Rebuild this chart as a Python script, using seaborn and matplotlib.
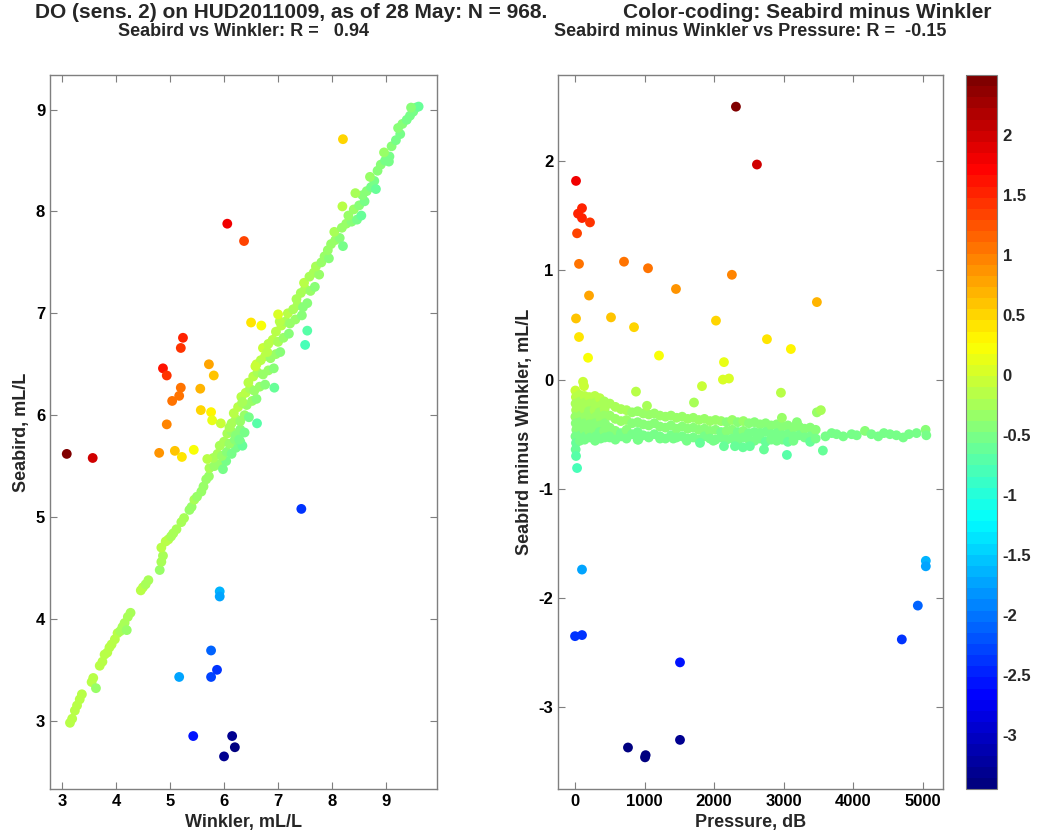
import matplotlib
matplotlib.use('Agg')
import matplotlib.pyplot as plt
from matplotlib.colors import LinearSegmentedColormap
import seaborn as sns
import numpy as np
import pandas as pd

# left panel: (Winkler, Seabird) pairs
band_pairs = [
    (3.15, 2.98), (3.19, 3.02), (3.24, 3.10), (3.28, 3.15), (3.33, 3.21), (3.37, 3.26),
    (3.55, 3.38), (3.58, 3.42), (3.63, 3.32), (3.70, 3.54), (3.75, 3.58), (3.79, 3.65),
    (3.84, 3.67), (3.88, 3.72), (3.92, 3.75), (3.98, 3.80), (4.03, 3.86), (4.08, 3.88),
    (4.12, 3.92), (4.16, 3.96), (4.20, 3.89), (4.22, 4.02), (4.27, 4.06), (4.46, 4.28),
    (4.50, 4.31), (4.55, 4.34), (4.60, 4.38), (4.81, 4.48), (4.84, 4.56), (4.87, 4.62),
    (4.84, 4.70), (4.92, 4.76), (4.97, 4.78), (5.02, 4.81), (5.06, 4.84), (5.12, 4.88),
    (5.21, 4.95), (5.26, 4.99), (5.36, 5.07), (5.40, 5.10), (5.45, 5.17), (5.50, 5.20),
    (5.58, 5.25), (5.62, 5.30), (5.67, 5.37), (5.72, 5.40),
    (5.73, 5.48), (5.82, 5.50), (5.90, 5.52), (5.98, 5.47), (6.04, 5.55),
    (5.80, 5.58), (5.88, 5.62), (5.96, 5.60), (6.05, 5.64), (6.14, 5.62), (6.22, 5.68),
    (5.92, 5.70), (6.00, 5.74), (6.10, 5.72), (6.20, 5.76), (6.30, 5.74), (6.34, 5.70),
    (6.06, 5.82), (6.14, 5.84), (6.22, 5.80), (6.30, 5.86), (6.38, 5.83),
    (6.14, 5.92), (6.22, 5.96), (6.30, 5.94), (6.38, 6.00), (6.46, 5.98), (6.18, 6.02),
    (6.26, 6.08), (6.34, 6.12), (6.42, 6.10), (6.52, 6.14), (6.60, 6.16), (6.32, 6.18),
    (6.40, 6.22), (6.48, 6.26), (6.56, 6.24), (6.66, 6.28), (6.76, 6.30), (6.45, 6.32),
    (6.54, 6.38), (6.62, 6.42), (6.72, 6.40), (6.82, 6.44), (6.92, 6.46), (6.60, 6.50),
    (6.68, 6.54), (6.76, 6.58), (6.86, 6.56), (6.96, 6.60), (7.04, 6.62), (6.72, 6.66),
    (6.82, 6.70), (6.90, 6.74), (7.00, 6.72), (7.10, 6.76), (7.20, 6.80), (6.96, 6.82),
    (7.06, 6.88), (7.14, 6.92), (7.22, 6.90), (7.32, 6.94), (7.44, 6.98), (7.18, 7.00),
    (7.28, 7.04), (7.36, 7.08), (7.46, 7.06), (7.54, 7.10), (7.34, 7.14),
    (7.42, 7.20), (7.50, 7.24), (7.60, 7.22), (7.68, 7.26), (7.48, 7.30),
    (7.58, 7.36), (7.66, 7.40), (7.76, 7.38), (7.70, 7.46),
    (7.80, 7.50), (7.86, 7.56), (7.94, 7.54), (7.92, 7.62),
    (7.98, 7.68), (8.06, 7.72), (8.14, 7.74), (8.04, 7.80),
    (8.18, 7.84), (8.26, 7.88), (8.36, 7.90), (8.46, 7.92), (8.54, 7.96), (8.30, 7.96),
    (8.40, 8.02), (8.50, 8.06), (8.60, 8.10), (8.56, 8.16),
    (8.64, 8.20), (8.72, 8.24), (8.78, 8.30), (8.70, 8.34),
    (8.84, 8.40), (8.90, 8.46), (8.98, 8.50), (9.06, 8.54), (8.96, 8.58),
    (9.10, 8.64), (9.18, 8.70), (9.26, 8.76), (9.22, 8.82),
    (9.30, 8.86), (9.38, 8.90), (9.44, 8.94), (9.50, 8.98), (9.55, 9.02), (9.60, 9.03), (9.46, 9.02),
    (6.80, 6.62), (6.58, 6.48), (6.34, 6.13), (6.93, 6.27), (6.28, 5.76), (6.10, 5.88),
    (8.19, 8.05), (8.43, 8.18), (8.81, 8.22), (9.05, 8.49), (8.20, 7.66), (7.03, 6.92),
]
outlier_pairs = [
    (3.09, 5.62), (3.57, 5.58), (6.06, 7.88), (6.37, 7.71), (8.20, 8.71),
    (5.24, 6.76), (5.20, 6.66), (4.87, 6.46), (4.94, 6.39), (5.20, 6.27), (5.17, 6.19),
    (5.04, 6.14), (4.94, 5.91), (4.80, 5.63), (5.09, 5.65), (5.22, 5.59), (5.44, 5.66),
    (5.72, 6.50), (5.81, 6.39), (5.56, 6.26), (5.57, 6.05), (5.76, 6.03), (5.78, 5.95),
    (5.94, 5.92), (5.69, 5.57), (6.50, 6.91), (6.69, 6.88), (7.00, 6.99), (7.54, 6.83),
    (7.50, 6.69), (7.43, 5.08), (6.61, 5.92),
    (5.92, 4.27), (5.92, 4.22), (5.17, 3.43), (5.76, 3.69), (5.87, 3.50), (5.76, 3.43),
    (5.43, 2.85), (6.15, 2.85), (6.20, 2.74), (6.00, 2.65),
]

# right panel: (Pressure, Seabird minus Winkler)
surface_pairs = [
    (5, -0.10), (12, -0.16), (8, -0.22), (15, -0.28), (5, -0.34), (10, -0.40), (18, -0.46),
    (6, -0.52), (14, -0.58), (9, -0.64),
    (65, -0.14), (75, -0.20), (60, -0.27), (80, -0.33), (70, -0.39), (62, -0.45), (78, -0.51), (68, -0.56),
    (135, -0.15), (145, -0.21), (130, -0.27), (150, -0.34), (140, -0.40), (132, -0.46), (148, -0.52), (138, -0.55),
    (205, -0.16), (215, -0.22), (200, -0.29), (220, -0.35), (210, -0.41), (202, -0.47), (218, -0.53),
    (285, -0.15), (295, -0.21), (280, -0.28), (300, -0.34), (290, -0.40), (282, -0.46), (298, -0.52), (288, -0.56),
    (355, -0.17), (365, -0.24), (350, -0.30), (370, -0.36), (360, -0.42), (352, -0.48), (368, -0.54),
    (420, -0.20), (425, -0.27), (415, -0.33), (430, -0.40), (418, -0.47), (428, -0.53),
]
deep_pairs = [
    (500, -0.22), (500, -0.33), (500, -0.44), (500, -0.53),
    (580, -0.25), (580, -0.36), (580, -0.47), (580, -0.55),
    (660, -0.27), (660, -0.38), (660, -0.49), (660, -0.52),
    (740, -0.28), (740, -0.37), (740, -0.46), (740, -0.54),
    (820, -0.30), (820, -0.40), (820, -0.50),
    (900, -0.29), (900, -0.39), (900, -0.48), (900, -0.55),
    (980, -0.31), (980, -0.41), (980, -0.51),
    (1060, -0.32), (1060, -0.42), (1060, -0.53),
    (1140, -0.31), (1140, -0.40), (1140, -0.50),
    (1220, -0.33), (1220, -0.43), (1220, -0.52),
    (1300, -0.34), (1300, -0.44), (1300, -0.54),
    (1380, -0.33), (1380, -0.42), (1380, -0.51),
    (1460, -0.35), (1460, -0.45), (1460, -0.53),
    (1540, -0.34), (1540, -0.43), (1540, -0.52),
    (1620, -0.36), (1620, -0.45), (1620, -0.54),
    (1700, -0.35), (1700, -0.44), (1700, -0.53),
    (1780, -0.37), (1780, -0.46), (1780, -0.55),
    (1860, -0.36), (1860, -0.45), (1860, -0.52),
    (1940, -0.38), (1940, -0.47), (1940, -0.54),
    (2020, -0.37), (2020, -0.46), (2020, -0.55),
    (2100, -0.38), (2100, -0.48), (2100, -0.53),
    (2180, -0.39), (2180, -0.47), (2180, -0.55),
    (2260, -0.37), (2260, -0.46), (2260, -0.54),
    (2340, -0.39), (2340, -0.48), (2340, -0.56),
    (2420, -0.38), (2420, -0.47), (2420, -0.53),
    (2500, -0.40), (2500, -0.49), (2500, -0.55),
    (2580, -0.39), (2580, -0.48), (2580, -0.56),
    (2660, -0.41), (2660, -0.49), (2660, -0.54),
    (2740, -0.40), (2740, -0.48), (2740, -0.57),
    (2820, -0.42), (2820, -0.50), (2820, -0.55),
    (2900, -0.41), (2900, -0.49), (2900, -0.56),
    (2980, -0.43), (2980, -0.51), (2980, -0.55),
    (3060, -0.42), (3060, -0.50), (3060, -0.57),
    (3140, -0.44), (3140, -0.52), (3140, -0.56),
    (3220, -0.43), (3220, -0.51), (3300, -0.45), (3300, -0.53),
    (3380, -0.44), (3380, -0.52), (3380, -0.57), (3460, -0.46), (3460, -0.54),
    (493, -0.52), (910, -0.55), (1053, -0.52), (1221, -0.54), (1413, -0.54),
    (1605, -0.56), (1797, -0.58), (1988, -0.56),
    (3600, -0.52), (3689, -0.49), (3760, -0.50), (3856, -0.52), (3976, -0.50),
    (4050, -0.51), (4168, -0.47), (4260, -0.50), (4359, -0.52), (4440, -0.49),
    (4527, -0.50), (4620, -0.51), (4718, -0.53), (4800, -0.50), (4910, -0.49),
    (5040, -0.46), (5050, -0.51),
]
right_outliers = [
    (2313, 2.50), (2615, 1.97), (14, 1.82), (100, 1.57), (43, 1.52), (100, 1.48), (215, 1.44),
    (29, 1.34), (57, 1.06), (704, 1.08), (1049, 1.02), (2255, 0.96), (1451, 0.83), (201, 0.77),
    (14, 0.56), (517, 0.57), (848, 0.48), (2026, 0.54), (57, 0.39), (2759, 0.37), (3103, 0.28),
    (3477, 0.71), (187, 0.20), (1207, 0.22), (2141, 0.16), (2126, 0.00), (2213, 0.01),
    (1825, -0.06), (115, -0.02), (129, -0.06), (876, -0.11), (1034, -0.24), (1710, -0.21),
    (2960, -0.12), (2974, -0.35), (3190, -0.39), (3477, -0.30), (3534, -0.28),
    (29, -0.81), (14, -0.70), (3046, -0.69), (3563, -0.65), (2716, -0.64), (2141, -0.61),
    (2299, -0.61), (2414, -0.62), (2514, -0.61),
    (100, -1.74), (0, -2.35), (100, -2.34), (1509, -2.59), (761, -3.37), (1006, -3.46),
    (1015, -3.44), (1509, -3.30), (4698, -2.38), (4928, -2.07), (5043, -1.66), (5043, -1.71),
]

vmin, vmax = -3.45, 2.5

# MATLAB-style jet (64 levels)
jet = LinearSegmentedColormap('mjet', {
    'red':   [(0, 0, 0), (0.375, 0, 0), (0.625, 1, 1), (0.875, 1, 1), (1, 0.5, 0.5)],
    'green': [(0, 0, 0), (0.125, 0, 0), (0.375, 1, 1), (0.625, 1, 1), (0.875, 0, 0), (1, 0, 0)],
    'blue':  [(0, 0.5, 0.5), (0.125, 1, 1), (0.375, 1, 1), (0.625, 0, 0), (1, 0, 0)],
}, N=64)

left = pd.DataFrame(band_pairs + outlier_pairs, columns=['winkler', 'seabird'])
left['diff'] = left['seabird'] - left['winkler']
right = pd.DataFrame(surface_pairs + deep_pairs + right_outliers, columns=['pressure', 'diff'])

sns.set_style('white')
plt.rcParams['font.family'] = ['Liberation Sans', 'DejaVu Sans']
plt.rcParams['font.weight'] = 'bold'
plt.rcParams['axes.unicode_minus'] = False

fig = plt.figure(figsize=(10.38, 8.39), dpi=100)
ax1 = fig.add_axes([50/1038, 50/839, 387/1038, 714/839])
ax2 = fig.add_axes([558/1038, 50/839, 385/1038, 714/839])
cax = fig.add_axes([966/1038, 50/839, 31/1038, 714/839])

sns.scatterplot(data=left, x='winkler', y='seabird', hue='diff', palette=jet,
                hue_norm=(vmin, vmax), s=50, linewidth=0, legend=False, ax=ax1)
sns.scatterplot(data=right, x='pressure', y='diff', hue='diff', palette=jet,
                hue_norm=(vmin, vmax), s=50, linewidth=0, legend=False, ax=ax2)

ax1.set_xlim(2.78, 9.94)
ax1.set_ylim(2.33, 9.34)
ax1.set_xticks(range(3, 10))
ax1.set_yticks(range(3, 10))
ax2.set_xlim(-245, 5290)
ax2.set_ylim(-3.75, 2.79)
ax2.set_xticks(range(0, 5001, 1000))
ax2.set_yticks(range(-3, 3))

ax1.set_xlabel('Winkler, mL/L', fontsize=13, fontweight='bold')
ax1.set_ylabel('Seabird, mL/L', fontsize=13, fontweight='bold')
ax2.set_xlabel('Pressure, dB', fontsize=13, fontweight='bold')
ax2.set_ylabel('Seabird minus Winkler, mL/L', fontsize=13, fontweight='bold')
ax1.set_title('Seabird vs Winkler: R =   0.94', fontsize=13, fontweight='bold', pad=28)
ax2.set_title('Seabird minus Winkler vs Pressure: R =  -0.15', fontsize=13, fontweight='bold', pad=28)

for ax in (ax1, ax2):
    for sp in ax.spines.values():
        sp.set_color('#7f7f7f')
        sp.set_linewidth(1.0)
    ax.tick_params(direction='in', length=5, width=0.8, color='#7f7f7f', labelsize=12,
                   top=True, right=True, bottom=True, left=True, labelcolor='black')

sm = plt.cm.ScalarMappable(cmap=jet, norm=plt.Normalize(vmin, vmax))
cb = fig.colorbar(sm, cax=cax)
cb.set_ticks([-3, -2.5, -2, -1.5, -1, -0.5, 0, 0.5, 1, 1.5, 2])
cb.set_ticklabels(['-3', '-2.5', '-2', '-1.5', '-1', '-0.5', '0', '0.5', '1', '1.5', '2'])
cb.outline.set_edgecolor('#7f7f7f')
cax.tick_params(direction='in', length=6, width=0.8, color='#555555', labelsize=12,
                left=True, right=True, pad=4)

fig.text(35/1038, 1 - 13/839, 'DO (sens. 2) on HUD2011009, as of 28 May: N = 968.',
         fontsize=15, fontweight='bold', va='center', ha='left')
fig.text(623/1038, 1 - 13/839, 'Color-coding: Seabird minus Winkler',
         fontsize=15, fontweight='bold', va='center', ha='left')

fig.savefig('out.png', dpi=100)
